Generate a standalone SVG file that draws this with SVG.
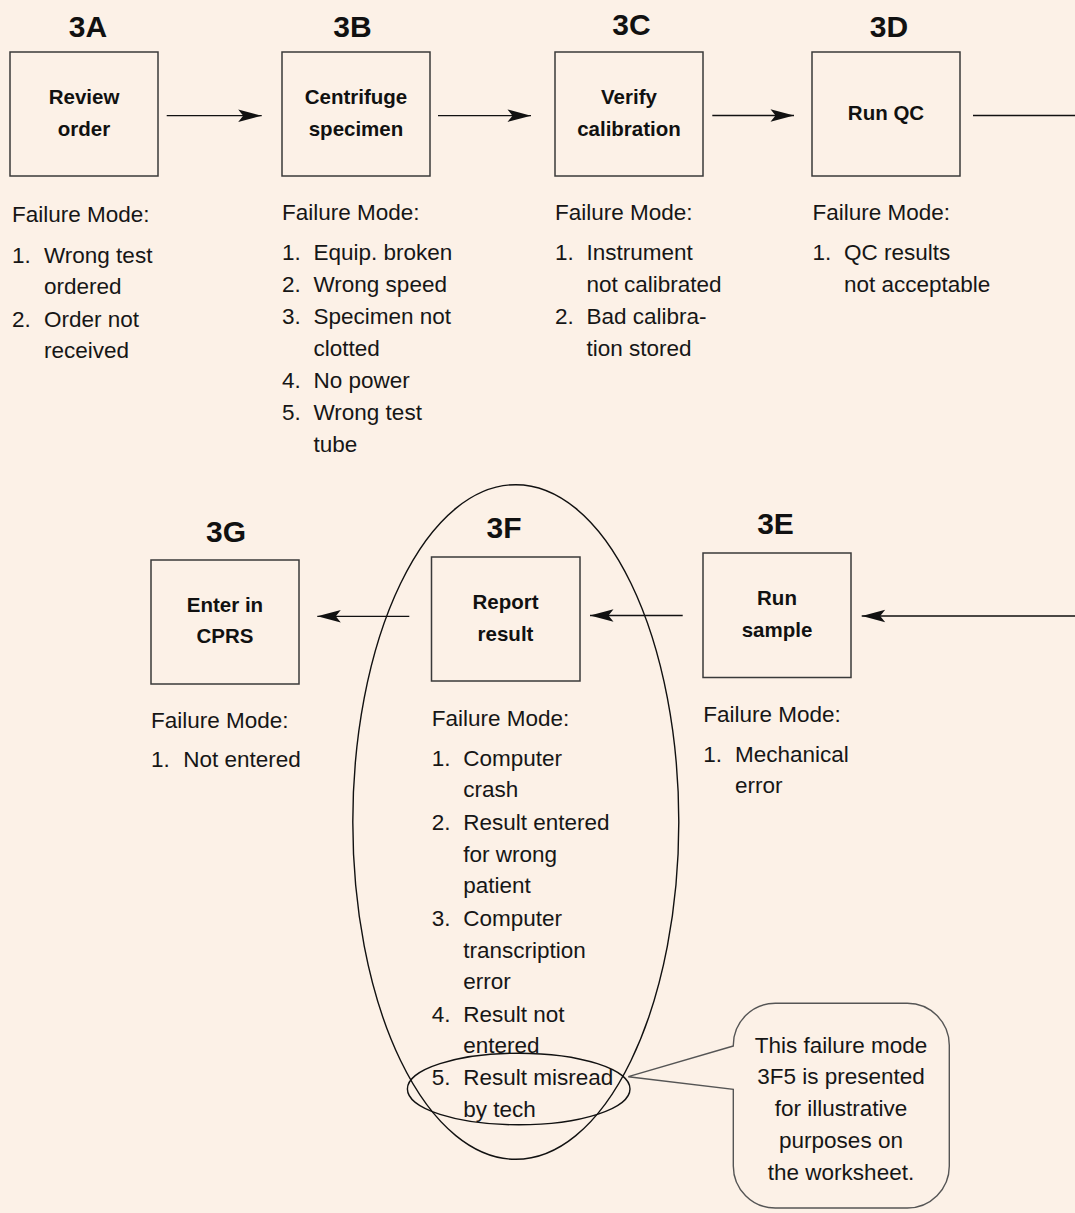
<svg xmlns="http://www.w3.org/2000/svg" width="1075" height="1213" viewBox="0 0 1075 1213">
<style>
.bg{fill:#FCF1E7}
.box{fill:none;stroke:#3a3a3a;stroke-width:1.5}
.lbl{font-family:"Liberation Sans",Arial,sans-serif;font-weight:bold;font-size:30px;fill:#111;text-anchor:middle}
.bt{font-family:"Liberation Sans",Arial,sans-serif;font-weight:bold;font-size:20.5px;fill:#111;text-anchor:middle}
.fm{font-family:"Liberation Sans",Arial,sans-serif;font-size:22.5px;fill:#161616}
.call{font-family:"Liberation Sans",Arial,sans-serif;font-size:22.5px;fill:#161616;text-anchor:middle}
.conn{fill:none;stroke:#111;stroke-width:1.3}
.ring{fill:none;stroke:#111;stroke-width:1.4}
.bubble{fill:#FCF1E7;stroke:#555;stroke-width:1.4}
</style>
<defs>
<marker id="ah" viewBox="-24 -7 24 14" refX="0" refY="0" markerWidth="24" markerHeight="14" markerUnits="userSpaceOnUse" orient="auto">
<path d="M0,0 L-23.5,-6.3 L-18.5,0 L-23.5,6.3 Z" fill="#111"/>
</marker>
</defs>
<rect class="bg" x="0" y="0" width="1075" height="1213"/>

<g id="connectors">
<line class="conn" x1="166.7" y1="115.7" x2="261.7" y2="115.7" marker-end="url(#ah)"/>
<line class="conn" x1="438" y1="115.7" x2="531" y2="115.7" marker-end="url(#ah)"/>
<line class="conn" x1="712.3" y1="115.5" x2="794" y2="115.5" marker-end="url(#ah)"/>
<path class="conn" d="M973,115.5 H1078 V616 H861.7" marker-end="url(#ah)"/>
<line class="conn" x1="682.7" y1="615.5" x2="590" y2="615.5" marker-end="url(#ah)"/>
<line class="conn" x1="409.3" y1="616.3" x2="317.3" y2="616.3" marker-end="url(#ah)"/>
</g>

<g id="node-3A">
<text class="lbl" x="88" y="37">3A</text>
<rect class="box" x="10" y="52" width="148" height="124"/>
<text class="bt" x="84" y="104">Review</text>
<text class="bt" x="84" y="136">order</text>
<text class="fm" x="12" y="222.3">Failure Mode:</text>
<text class="fm"><tspan x="12" y="262.7">1.</tspan><tspan x="44" y="262.7">Wrong test</tspan><tspan x="44" y="294.3">ordered</tspan><tspan x="12" y="326.7">2.</tspan><tspan x="44" y="326.7">Order not</tspan><tspan x="44" y="358.3">received</tspan></text>
</g>

<g id="node-3B">
<text class="lbl" x="352.5" y="37">3B</text>
<rect class="box" x="282" y="52" width="148" height="124"/>
<text class="bt" x="356" y="104">Centrifuge</text>
<text class="bt" x="356" y="136">specimen</text>
<text class="fm" x="282" y="220">Failure Mode:</text>
<text class="fm"><tspan x="282" y="260">1.</tspan><tspan x="313.5" y="260">Equip. broken</tspan><tspan x="282" y="291.7">2.</tspan><tspan x="313.5" y="291.7">Wrong speed</tspan><tspan x="282" y="324">3.</tspan><tspan x="313.5" y="324">Specimen not</tspan><tspan x="313.5" y="355.7">clotted</tspan><tspan x="282" y="388">4.</tspan><tspan x="313.5" y="388">No power</tspan><tspan x="282" y="420">5.</tspan><tspan x="313.5" y="420">Wrong test</tspan><tspan x="313.5" y="451.7">tube</tspan></text>
</g>

<g id="node-3C">
<text class="lbl" x="631.5" y="34.5">3C</text>
<rect class="box" x="555" y="52" width="148" height="124"/>
<text class="bt" x="629" y="104">Verify</text>
<text class="bt" x="629" y="136">calibration</text>
<text class="fm" x="555" y="220">Failure Mode:</text>
<text class="fm"><tspan x="555" y="260">1.</tspan><tspan x="586.5" y="260">Instrument</tspan><tspan x="586.5" y="291.7">not calibrated</tspan><tspan x="555" y="323.5">2.</tspan><tspan x="586.5" y="323.5">Bad calibra-</tspan><tspan x="586.5" y="355.7">tion stored</tspan></text>
</g>

<g id="node-3D">
<text class="lbl" x="889" y="37">3D</text>
<rect class="box" x="812" y="52" width="148" height="124"/>
<text class="bt" x="886" y="120">Run QC</text>
<text class="fm" x="812.5" y="220">Failure Mode:</text>
<text class="fm"><tspan x="812.5" y="260">1.</tspan><tspan x="844" y="260">QC results</tspan><tspan x="844" y="291.7">not acceptable</tspan></text>
</g>

<g id="node-3E">
<text class="lbl" x="775.5" y="534">3E</text>
<rect class="box" x="703" y="553" width="148" height="124.5"/>
<text class="bt" x="777" y="605">Run</text>
<text class="bt" x="777" y="636.7">sample</text>
<text class="fm" x="703.3" y="721.7">Failure Mode:</text>
<text class="fm"><tspan x="703.3" y="761.7">1.</tspan><tspan x="735" y="761.7">Mechanical</tspan><tspan x="735" y="793.3">error</tspan></text>
</g>

<g id="node-3F">
<text class="lbl" x="504" y="538">3F</text>
<rect class="box" x="431.5" y="557" width="148.5" height="124"/>
<text class="bt" x="505.5" y="609">Report</text>
<text class="bt" x="505.5" y="641">result</text>
<text class="fm" x="431.7" y="725.7">Failure Mode:</text>
<text class="fm"><tspan x="431.7" y="765.7">1.</tspan><tspan x="463.3" y="765.7">Computer</tspan><tspan x="463.3" y="797.3">crash</tspan><tspan x="431.7" y="830">2.</tspan><tspan x="463.3" y="830">Result entered</tspan><tspan x="463.3" y="861.7">for wrong</tspan><tspan x="463.3" y="893.3">patient</tspan><tspan x="431.7" y="926">3.</tspan><tspan x="463.3" y="926">Computer</tspan><tspan x="463.3" y="957.7">transcription</tspan><tspan x="463.3" y="989.3">error</tspan><tspan x="431.7" y="1021.7">4.</tspan><tspan x="463.3" y="1021.7">Result not</tspan><tspan x="463.3" y="1053.3">entered</tspan><tspan x="431.7" y="1085">5.</tspan><tspan x="463.3" y="1085">Result misread</tspan><tspan x="463.3" y="1117.3">by tech</tspan></text>
</g>

<g id="node-3G">
<text class="lbl" x="226" y="542">3G</text>
<rect class="box" x="151" y="560" width="148" height="124"/>
<text class="bt" x="225" y="612.3">Enter in</text>
<text class="bt" x="225" y="643.3">CPRS</text>
<text class="fm" x="151" y="727.7">Failure Mode:</text>
<text class="fm"><tspan x="151" y="767.3">1.</tspan><tspan x="183.3" y="767.3">Not entered</tspan></text>
</g>

<g id="highlight">
<ellipse class="ring" cx="515.8" cy="822" rx="163" ry="337.3"/>
<ellipse class="ring" cx="518.7" cy="1089" rx="111.3" ry="35.8"/>
</g>

<g id="callout">
<path class="bubble" d="M733.3,1046 L628.3,1076.7 L733.3,1089.3 V1166 A42,42 0 0 0 775.3,1208 H907.3 A42,42 0 0 0 949.3,1166 V1045.3 A42,42 0 0 0 907.3,1003.3 H775.3 A42,42 0 0 0 733.3,1045.3 Z"/>
<text class="call"><tspan x="841" y="1052.7">This failure mode</tspan><tspan x="841" y="1084.3">3F5 is presented</tspan><tspan x="841" y="1116">for illustrative</tspan><tspan x="841" y="1147.7">purposes on</tspan><tspan x="841" y="1180">the worksheet.</tspan></text>
</g>
</svg>
